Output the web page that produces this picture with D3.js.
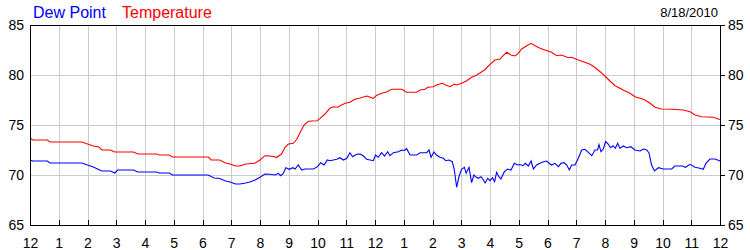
<!DOCTYPE html>
<html>
<head>
<meta charset="utf-8">
<title>Dew Point / Temperature</title>
<script src="https://cdnjs.cloudflare.com/ajax/libs/d3/7.8.5/d3.min.js"></script>
<style>
  body { margin: 0; background: #fff; }
  svg { display: block; font-family: "Liberation Sans", Arial, sans-serif; }
  .grid line { stroke: #cccccc; shape-rendering: crispEdges; }
  .grid path { display: none; }
  .axis path, .axis line { stroke: #000; shape-rendering: crispEdges; }
  .axis text { font-size: 14px; fill: #000; }
</style>
</head>
<body>
<script>
// hour labels along the bottom (midnight to midnight)
var hourTicks = d3.range(0, 25);
var hourLabels = ["12","1","2","3","4","5","6","7","8","9","10","11","12","1","2","3","4","5","6","7","8","9","10","11","12"];
var yTicks = [65, 70, 75, 80, 85];
var dateLabel = "8/18/2010";

// temperature, hour of day -> degrees F
var tempHours = [0,0.1,0.6,0.7,1.8,2.0,2.2,2.4,2.5,2.8,2.95,3.6,3.75,4.4,4.5,4.85,4.95,6.2,6.3,6.6,6.8,6.96,7.15,7.3,7.5,7.82,
  8.0,8.17,8.35,8.58,8.75,8.87,8.99,9.16,9.28,9.39,9.53,9.68,9.99,10.09,10.26,10.43,10.55,10.7,10.84,10.96,11.13,11.3,11.48,
  11.71,11.94,12.06,12.29,12.4,12.58,12.93,13.1,13.45,13.57,13.74,13.83,14.03,14.14,14.34,14.46,14.61,14.76,14.84,15.01,15.19,
  15.36,15.53,15.65,15.83,16.0,16.17,16.35,16.46,16.58,16.73,16.87,16.98,17.1,17.28,17.43,17.57,17.74,17.91,18.14,18.32,18.49,
  18.72,18.84,19.07,19.3,19.48,19.65,19.83,20.0,20.17,20.35,20.52,20.7,20.87,21.04,21.22,21.39,21.57,21.74,21.97,22.32,22.72,
  22.96,23.13,23.36,23.77,23.94,24];
var tempValues = [73.7,73.5,73.5,73.3,73.3,73.1,72.9,72.8,72.5,72.5,72.3,72.3,72.1,72.1,72.0,72.0,71.8,71.8,71.5,71.5,71.2,71.1,70.9,70.9,71.1,71.17,
  71.5,71.93,71.9,71.77,72.1,72.77,73.1,73.17,73.57,74.23,75.0,75.37,75.43,75.67,76.1,76.67,76.83,76.77,77.0,77.17,77.27,77.57,77.7,
  77.9,77.67,77.97,78.23,78.3,78.57,78.57,78.27,78.27,78.5,78.57,78.77,78.83,79.0,79.17,79.0,78.83,79.1,79.0,79.17,79.43,
  79.77,79.97,80.2,80.55,81.07,81.5,81.6,81.93,82.27,82.0,81.9,82.17,82.6,82.93,83.17,82.93,82.67,82.5,82.27,81.93,82.0,
  81.73,81.77,81.5,81.27,81.07,80.75,80.33,79.9,79.4,78.93,78.67,78.4,78.17,77.83,77.67,77.5,77.17,76.77,76.6,76.57,76.5,
  76.33,76.0,75.83,75.77,75.6,75.55];

// dew point, hour of day -> degrees F
var dewHours = [0,0.1,0.6,0.7,1.8,2.0,2.2,2.35,2.5,2.8,2.95,3.05,3.6,3.75,4.4,4.5,4.85,4.95,6.2,6.4,6.6,6.8,6.96,7.15,7.3,7.5,7.65,7.83,
  8.0,8.17,8.35,8.52,8.64,8.72,8.81,8.9,9.02,9.14,9.22,9.33,9.45,9.57,9.86,10.0,10.11,10.23,10.34,10.43,10.67,10.78,10.9,11.02,
  11.13,11.22,11.36,11.48,11.6,11.71,11.94,12.02,12.11,12.23,12.33,12.44,12.52,12.64,12.81,12.93,13.02,13.1,13.22,13.45,13.57,
  13.8,13.88,13.95,14.05,14.14,14.26,14.38,14.46,14.57,14.69,14.76,14.84,14.92,15.01,15.11,15.17,15.27,15.36,15.44,15.53,15.59,
  15.69,15.77,15.83,15.92,16.0,16.09,16.16,16.23,16.31,16.38,16.5,16.61,16.73,16.85,16.96,17.04,17.15,17.23,17.33,17.43,17.51,
  17.62,17.74,17.86,17.97,18.06,18.14,18.26,18.38,18.47,18.58,18.67,18.76,18.84,18.96,19.07,19.19,19.3,19.42,19.54,19.65,19.74,
  19.79,19.86,19.94,20.02,20.12,20.19,20.28,20.36,20.44,20.52,20.64,20.75,20.9,21.04,21.22,21.33,21.45,21.53,21.62,21.72,21.86,
  22.03,22.32,22.43,22.69,22.8,22.96,23.13,23.3,23.42,23.51,23.65,23.83,24.0];
var dewValues = [71.5,71.4,71.4,71.2,71.2,71.0,70.8,70.6,70.4,70.4,70.2,70.5,70.5,70.3,70.3,70.2,70.2,70.0,70.0,69.7,69.65,69.4,69.3,69.1,69.1,69.2,69.3,69.5,
  69.77,70.1,70.07,70.0,70.17,69.93,70.15,70.73,70.57,70.73,70.6,71.0,70.5,70.6,70.6,70.83,71.23,71.0,71.5,71.43,71.57,71.73,71.5,71.67,
  72.23,71.83,72.07,72.1,71.9,71.57,71.43,72.0,71.77,72.23,71.9,72.33,71.93,72.23,72.33,72.5,72.45,72.63,72.0,72.0,72.23,
  72.23,72.5,71.77,72.3,72.0,71.77,71.67,71.43,71.5,71.33,70.5,68.77,69.83,70.57,70.77,70.17,70.77,69.23,70.0,69.77,69.67,
  69.83,69.5,69.2,69.67,69.43,69.73,69.33,70.27,69.83,69.6,70.33,70.6,70.5,71.17,71.0,71.05,70.93,71.17,70.9,71.4,70.6,
  71.0,71.17,71.33,71.4,71.17,71.0,71.17,70.83,71.17,71.23,71.0,70.5,71.0,71.0,71.67,72.5,72.57,72.27,71.93,72.5,72.5,
  73.05,72.33,72.6,73.35,73.07,72.73,72.93,72.67,73.17,72.67,72.9,72.73,72.83,72.5,72.4,72.6,72.5,72.2,71.0,70.4,70.73,
  70.6,70.6,70.9,70.9,70.77,71.07,70.77,70.67,70.57,71.17,71.6,71.6,71.4];

var width = 750, height = 250;
var margin = {top: 25, right: 30, bottom: 25, left: 30};
var plotW = width - margin.left - margin.right,
    plotH = height - margin.top - margin.bottom;

var svg = d3.select("body").append("svg")
    .attr("width", width)
    .attr("height", height);

svg.append("rect").attr("width", width).attr("height", height).attr("fill", "#fff");

var g = svg.append("g")
    .attr("transform", "translate(" + margin.left + "," + margin.top + ")");

var x = d3.scaleLinear().domain([0, 24]).range([0, plotW]);
var y = d3.scaleLinear().domain([65, 85]).range([plotH, 0]);

// grid lines
g.append("g")
    .attr("class", "grid")
    .attr("transform", "translate(0," + plotH + ")")
    .call(d3.axisBottom(x).tickValues(hourTicks.slice(1, -1)).tickSize(-plotH).tickFormat(""));
g.append("g")
    .attr("class", "grid")
    .call(d3.axisLeft(y).tickValues([70, 75, 80]).tickSize(-plotW).tickFormat(""));

// lines
var dewData = dewHours.map(function(h, i) { return [h, dewValues[i]]; });
var tempData = tempHours.map(function(h, i) { return [h, tempValues[i]]; });

var line = d3.line()
    .x(function(d) { return x(d[0]); })
    .y(function(d) { return y(d[1]); });

g.append("path")
    .datum(dewData)
    .attr("fill", "none")
    .attr("stroke", "#0000ff")
    .attr("stroke-width", 1.1)
    .attr("d", line);

g.append("path")
    .datum(tempData)
    .attr("fill", "none")
    .attr("stroke", "#ff0000")
    .attr("stroke-width", 1.1)
    .attr("d", line);

// border
g.append("rect")
    .attr("x", 0.5).attr("y", 0.5)
    .attr("width", plotW).attr("height", plotH)
    .attr("fill", "none")
    .attr("stroke", "#000")
    .style("shape-rendering", "crispEdges");

// axes
var xAxis = g.append("g")
    .attr("class", "axis")
    .attr("transform", "translate(0," + plotH + ")")
    .call(d3.axisBottom(x).tickValues(hourTicks).tickSize(-5).tickPadding(13)
      .tickFormat(function(d, i) { return hourLabels[i]; }));
xAxis.select(".domain").remove();

var yLeft = g.append("g")
    .attr("class", "axis")
    .call(d3.axisLeft(y).tickValues(yTicks).tickSize(0).tickPadding(6));
yLeft.select(".domain").remove();

var yRight = g.append("g")
    .attr("class", "axis")
    .attr("transform", "translate(" + plotW + ",0)")
    .call(d3.axisRight(y).tickValues(yTicks).tickSize(5).tickPadding(3));
yRight.select(".domain").remove();

// legend and date
svg.append("text")
    .attr("x", 33).attr("y", 18)
    .style("font-size", "16px")
    .attr("fill", "#0000ff")
    .text("Dew Point");
svg.append("text")
    .attr("x", 122).attr("y", 18)
    .style("font-size", "16px")
    .attr("fill", "#ff0000")
    .text("Temperature");
svg.append("text")
    .attr("x", 718).attr("y", 17)
    .attr("text-anchor", "end")
    .style("font-size", "13px")
    .attr("fill", "#000")
    .text(dateLabel);
</script>
</body>
</html>
